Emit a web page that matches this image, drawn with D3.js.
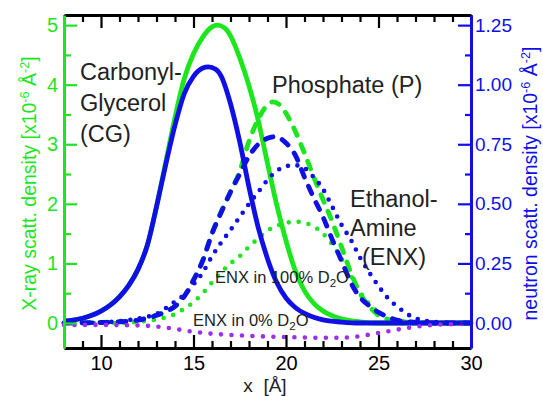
<!DOCTYPE html>
<html>
<head>
<meta charset="utf-8">
<title>scattering density profiles</title>
<script src="https://cdn.jsdelivr.net/npm/d3@7"></script>
<style>
  body { margin: 0; background: #fff; }
  svg { display: block; font-family: "Liberation Sans", Arial, sans-serif; }
</style>
</head>
<body>
<div id="chart"></div>
<script>
// x in Angstrom; X-ray values in left-axis units, neutron values in right-axis units
var cgXray = [[8,0.03],[8.5,0.05],[9,0.08],[9.5,0.13],[10,0.2],[10.5,0.3],[11,0.44],[11.5,0.63],[12,0.9],[12.5,1.3],[13,1.95],[13.5,2.7],[14,3.45],[14.5,4.1],[15,4.52],[15.5,4.8],[16,4.97],[16.3,5.0],[16.7,4.95],[17,4.82],[17.5,4.45],[18,3.98],[18.5,3.4],[19,2.68],[19.5,1.98],[20,1.38],[20.5,0.88],[21,0.54],[21.5,0.33],[22,0.2],[22.5,0.12],[23,0.07],[24,0.02],[25,0],[30,0]];
var pXray = [[8,0],[10,0.01],[11,0.02],[12,0.05],[12.6,0.09],[13,0.13],[13.5,0.19],[14,0.28],[14.5,0.45],[15,0.72],[15.5,1.05],[16,1.5],[16.5,1.87],[17,2.2],[17.5,2.55],[18,3.05],[18.5,3.42],[19,3.66],[19.3,3.71],[19.7,3.65],[20,3.52],[20.5,3.22],[21,2.85],[21.5,2.45],[22,2.07],[22.5,1.7],[23,1.28],[23.5,0.85],[24,0.5],[24.5,0.28],[25,0.13],[25.5,0.06],[26,0.03],[27,0.01],[28,0],[30,0]];
var enxXray = [[8,0],[11,0],[12,0.02],[13,0.06],[14,0.15],[14.5,0.24],[15,0.35],[15.5,0.5],[16,0.68],[16.5,0.85],[17,1.0],[17.5,1.12],[18,1.28],[18.5,1.42],[19,1.55],[19.5,1.63],[20,1.68],[20.5,1.7],[21,1.68],[21.5,1.62],[22,1.5],[22.5,1.32],[23,1.08],[23.5,0.8],[24,0.52],[24.5,0.32],[25,0.18],[25.5,0.1],[26,0.05],[27,0.01],[28,0],[30,0]];

var cgNeutron = [[8,0.008],[8.5,0.012],[9,0.02],[9.5,0.032],[10,0.05],[10.5,0.075],[11,0.11],[11.5,0.158],[12,0.225],[12.5,0.325],[13,0.488],[13.5,0.665],[14,0.83],[14.5,0.962],[15,1.035],[15.5,1.07],[15.8,1.075],[16.2,1.065],[16.5,1.035],[17,0.92],[17.5,0.76],[18,0.57],[18.5,0.4],[19,0.27],[19.5,0.17],[20,0.105],[20.5,0.065],[21,0.04],[21.5,0.024],[22,0.013],[23,0.004],[24,0],[30,0]];
var pNeutron = [[8,0],[10,0.002],[11,0.005],[12,0.012],[12.6,0.022],[13,0.032],[13.5,0.048],[14,0.07],[14.5,0.112],[15,0.18],[15.5,0.262],[16,0.375],[16.5,0.465],[17,0.55],[17.5,0.625],[18,0.7],[18.5,0.75],[19,0.775],[19.4,0.782],[20,0.755],[20.5,0.705],[21,0.612],[21.5,0.525],[22,0.445],[22.5,0.35],[23,0.262],[23.5,0.17],[24,0.108],[24.5,0.072],[25,0.045],[25.5,0.025],[26,0.012],[27,0.003],[28,0],[30,0]];
var enxD2O = [[8,0],[10,0.002],[11,0.008],[12,0.018],[12.5,0.026],[13,0.038],[13.5,0.062],[14,0.09],[14.5,0.118],[15,0.162],[15.5,0.212],[16,0.28],[16.5,0.338],[17,0.39],[17.5,0.445],[18,0.5],[18.5,0.55],[19,0.6],[19.5,0.638],[20,0.658],[20.5,0.662],[21,0.65],[21.5,0.612],[22,0.562],[22.5,0.488],[23,0.412],[23.5,0.35],[24,0.275],[24.5,0.212],[25,0.155],[25.5,0.105],[26,0.07],[26.5,0.04],[27,0.02],[27.5,0.01],[28,0.005],[29,0],[30,0]];
var enxH2O = [[8,-0.008],[9,-0.008],[10,-0.008],[11,-0.009],[12,-0.01],[13,-0.015],[14,-0.025],[15,-0.037],[16,-0.045],[17,-0.05],[18,-0.054],[19,-0.057],[20,-0.059],[21,-0.061],[22,-0.062],[23,-0.062],[24,-0.055],[25,-0.042],[26,-0.028],[27,-0.016],[28,-0.008],[29,-0.005],[30,-0.004]];

var xTicks = [10, 15, 20, 25, 30];
var leftTicks = [0, 1, 2, 3, 4, 5];
var rightTicks = [0, 0.25, 0.5, 0.75, 1.0, 1.25];

var green = "#1ee61e", blue = "#1010e6", purple = "#9a2ff0", ink = "#222";
var W = 543, H = 396;
var L = 64, R = 471, T = 15, B = 348;

var x = d3.scaleLinear().domain([8, 30]).range([L, R]);
var yL = d3.scaleLinear().domain([-0.42, 5.17]).range([B, T]);
var yR = d3.scaleLinear().domain([-0.105, 1.2925]).range([B, T]);

var svg = d3.select("#chart").append("svg")
  .attr("width", W).attr("height", H)
  .attr("viewBox", [0, 0, W, H]);

// curves
var series = [
  {data: cgXray, y: yL, color: green, dash: null},
  {data: pXray, y: yL, color: green, dash: "8,10"},
  {data: enxXray, y: yL, color: green, dash: "0,10"},
  {data: cgNeutron, y: yR, color: blue, dash: null},
  {data: pNeutron, y: yR, color: blue, dash: "8,10"},
  {data: enxD2O, y: yR, color: blue, dash: "0,9.5"},
  {data: enxH2O, y: yR, color: purple, dash: "0,10.5"}
];

svg.append("g").selectAll("path")
  .data(series)
  .join("path")
    .attr("fill", "none")
    .attr("stroke", d => d.color)
    .attr("stroke-width", d => d.dash && d.dash.startsWith("0") ? 4.6 : 4.8)
    .attr("stroke-linecap", d => d.dash ? "round" : "butt")
    .attr("stroke-dasharray", d => d.dash)
    .attr("d", d => d3.line()
      .x(p => x(p[0]))
      .y(p => d.y(p[1]))
      .curve(d3.curveMonotoneX)(d.data));

// axes: bottom / top black, left green, right blue, ticks pointing inside
function styleAxis(g, color, width) {
  g.select(".domain").attr("stroke", color).attr("stroke-width", width);
  g.selectAll(".tick line").attr("stroke", color).attr("stroke-width", 2.2);
  g.selectAll(".tick text").attr("fill", color);
}

var minorX = d3.range(8, 31, 1).filter(v => v % 5 !== 0);
var minorL = d3.range(0.5, 5.01, 1);
var minorR = d3.range(0.125, 1.26, 0.25);

svg.append("g").attr("transform", `translate(0,${B})`)
  .call(d3.axisBottom(x).tickValues(minorX).tickSize(-7).tickSizeOuter(0).tickFormat(""))
  .call(g => styleAxis(g, "#000", 3));
svg.append("g").attr("transform", `translate(0,${B})`)
  .call(d3.axisBottom(x).tickValues(xTicks).tickSize(-13).tickSizeOuter(0).tickPadding(5))
  .call(g => g.select(".domain").remove())
  .call(g => styleAxis(g, "#000", 3))
  .call(g => g.selectAll(".tick text").attr("font-size", 20).attr("dy", "0.85em"));

svg.append("g").attr("transform", `translate(0,${T})`)
  .call(d3.axisTop(x).tickValues(minorX).tickSize(-7).tickSizeOuter(0).tickFormat(""))
  .call(g => styleAxis(g, "#000", 3));
svg.append("g").attr("transform", `translate(0,${T})`)
  .call(d3.axisTop(x).tickValues(xTicks).tickSize(-13).tickSizeOuter(0).tickFormat(""))
  .call(g => g.select(".domain").remove())
  .call(g => styleAxis(g, "#000", 3));

svg.append("g").attr("transform", `translate(${L},0)`)
  .call(d3.axisLeft(yL).tickValues(minorL).tickSize(-7).tickSizeOuter(0).tickFormat(""))
  .call(g => styleAxis(g, green, 3));
svg.append("g").attr("transform", `translate(${L},0)`)
  .call(d3.axisLeft(yL).tickValues(leftTicks).tickSize(-13).tickSizeOuter(0).tickPadding(6).tickFormat(d3.format("d")))
  .call(g => g.select(".domain").remove())
  .call(g => styleAxis(g, green, 3))
  .call(g => g.selectAll(".tick text").attr("font-size", 20));

svg.append("g").attr("transform", `translate(${R},0)`)
  .call(d3.axisRight(yR).tickValues(minorR).tickSize(-6).tickSizeOuter(0).tickFormat(""))
  .call(g => styleAxis(g, blue, 3));
svg.append("g").attr("transform", `translate(${R},0)`)
  .call(d3.axisRight(yR).tickValues(rightTicks).tickSize(-13).tickSizeOuter(0).tickPadding(4).tickFormat(d3.format(".2f")))
  .call(g => g.select(".domain").remove())
  .call(g => styleAxis(g, blue, 3))
  .call(g => g.selectAll(".tick text").attr("font-size", 19));

// axis titles
function densityTitle(text, label) {
  text.append("tspan").text(label + " [x10");
  text.append("tspan").attr("font-size", "0.65em").attr("dy", "-0.55em").text("-6");
  text.append("tspan").attr("dy", "0.36em").text(" Å");
  text.append("tspan").attr("font-size", "0.65em").attr("dy", "-0.55em").text("-2");
  text.append("tspan").attr("dy", "0.36em").text("]");
}

svg.append("text")
  .attr("transform", `translate(36,${(T + B) / 2 + 2}) rotate(-90)`)
  .attr("text-anchor", "middle").attr("font-size", 19.5).attr("fill", green)
  .call(densityTitle, "X-ray scatt. density");

svg.append("text")
  .attr("transform", `translate(537,${(T + B) / 2 + 2}) rotate(-90)`)
  .attr("text-anchor", "middle").attr("font-size", 19.5).attr("fill", blue)
  .call(densityTitle, "neutron scatt. density");

svg.append("text")
  .attr("x", 265).attr("y", 392).attr("text-anchor", "middle")
  .attr("font-size", 19).attr("fill", ink)
  .style("white-space", "pre")
  .text("x  [Å]");

// annotations
var notes = [
  {t: "Carbonyl-", x: 80, y: 80},
  {t: "Glycerol", x: 80, y: 111},
  {t: "(CG)", x: 80, y: 142},
  {t: "Phosphate (P)", x: 272, y: 93},
  {t: "Ethanol-", x: 350, y: 207},
  {t: "Amine", x: 350, y: 236},
  {t: "(ENX)", x: 362, y: 265}
];
svg.append("g").selectAll("text")
  .data(notes)
  .join("text")
    .attr("x", d => d.x).attr("y", d => d.y)
    .attr("font-size", 23.5).attr("fill", ink)
    .text(d => d.t);

function d2oLabel(text, pre) {
  text.append("tspan").text(pre + "D");
  text.append("tspan").attr("font-size", "0.7em").attr("dy", "0.35em").text("2");
  text.append("tspan").attr("dy", "-0.25em").text("O");
}
svg.append("text").attr("x", 215).attr("y", 283)
  .attr("font-size", 16.5).attr("fill", ink)
  .call(d2oLabel, "ENX in 100% ");
svg.append("text").attr("x", 193).attr("y", 326)
  .attr("font-size", 16.5).attr("fill", ink)
  .call(d2oLabel, "ENX in 0% ");
</script>
</body>
</html>
